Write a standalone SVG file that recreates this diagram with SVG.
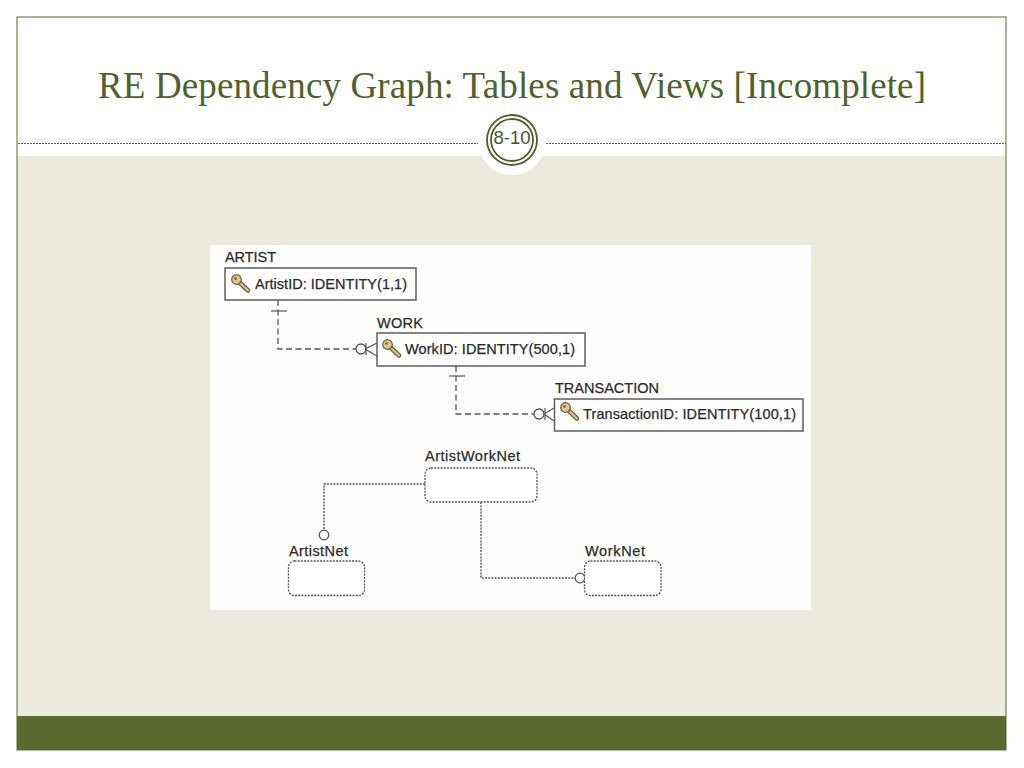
<svg xmlns="http://www.w3.org/2000/svg" width="1024" height="768" viewBox="0 0 1024 768">
<style>
.title{font-family:"Liberation Serif",serif;font-size:37px;fill:#4f6228}
.num{font-family:"Liberation Sans",Arial,sans-serif;font-size:18.500px;fill:#4a5430}
.lbl{font-family:"Liberation Sans",Arial,sans-serif;font-size:14.500px;fill:#2b2b2b;stroke:#2b2b2b;stroke-width:.25}
.tbl{fill:#fff;stroke:#5f5f5f;stroke-width:1.500}
.view{fill:#fff;stroke:#555;stroke-width:1.300;stroke-dasharray:2 1.200}
.dash{fill:none;stroke:#555;stroke-width:1.300;stroke-dasharray:6 3.500}
.dot{fill:none;stroke:#555;stroke-width:1.400;stroke-dasharray:2 1.200}
.solid{fill:none;stroke:#555;stroke-width:1.200}
.open{fill:#fff;stroke:#555;stroke-width:1.300}
</style>
<defs>
<g id="key">
<path d="M6.500 6.500L17 16.500" stroke="#6b5c35" stroke-width="4.600" stroke-linecap="round" fill="none"/>
<path d="M6.500 6.500L17 16.500" stroke="#d8c48f" stroke-width="2.400" stroke-linecap="round" fill="none"/>
<circle cx="5.500" cy="5.500" r="4.800" fill="#dcc88f" stroke="#6b5c35" stroke-width="1.200"/>
<circle cx="4.500" cy="4.500" r="1.300" fill="#6b5c35"/>
</g>
</defs>
<rect width="1024" height="768" fill="#fff"/>
<rect x="17" y="156" width="989" height="560" fill="#ece9df"/>
<rect x="17" y="716" width="989" height="34" fill="#5b6b2e"/>
<rect x="17" y="17" width="989" height="733" fill="none" stroke="#5b6b2e" stroke-width="1"/>
<line x1="18" y1="143.500" x2="1006" y2="143.500" stroke="#5b6b2e" stroke-width="1" stroke-dasharray="2 1"/>
<circle cx="512" cy="141" r="34" fill="#fff"/>
<circle cx="512" cy="140" r="25" fill="#fff" stroke="#4f5f26" stroke-width="1.800"/>
<circle cx="512" cy="140" r="21" fill="none" stroke="#4f5f26" stroke-width="1.800"/>
<text class="title" x="98" y="98" textLength="828">RE Dependency Graph: Tables and Views [Incomplete]</text>
<text class="num" x="512" y="144" text-anchor="middle">8-10</text>
<rect x="210" y="245" width="601" height="365" fill="#fefefd"/>
<g id="connectors">
<path class="dash" d="M278 300V349H356"/>
<path class="solid" d="M271 311H287"/>
<circle class="open" cx="361" cy="349" r="5"/>
<path class="solid" d="M366 343V355M365 349L377 343M365 349L377 356"/>
<path class="dash" d="M456 366V414H534"/>
<path class="solid" d="M449 376H465"/>
<circle class="open" cx="539" cy="414" r="5"/>
<path class="solid" d="M545 408V420M544 414L554 408M544 414L554 421"/>
<path class="dot" d="M425 484H324V530"/>
<circle class="open" cx="324" cy="535" r="4.800"/>
<path class="dot" d="M481 502V578H575"/>
<circle class="open" cx="580" cy="578" r="4.800"/>
</g>
<g id="artist">
<text class="lbl" x="225" y="262" textLength="51">ARTIST</text>
<rect class="tbl" x="225" y="268" width="191" height="32"/>
<use href="#key" x="231" y="274"/>
<text class="lbl" x="255" y="289" textLength="152">ArtistID: IDENTITY(1,1)</text>
</g>
<g id="work">
<text class="lbl" x="377" y="328" textLength="46">WORK</text>
<rect class="tbl" x="377" y="333" width="208" height="33"/>
<use href="#key" x="382" y="339"/>
<text class="lbl" x="405" y="354" textLength="170">WorkID: IDENTITY(500,1)</text>
</g>
<g id="transaction">
<text class="lbl" x="555" y="393" textLength="104">TRANSACTION</text>
<rect class="tbl" x="554.500" y="399" width="248.500" height="32"/>
<use href="#key" x="560" y="402"/>
<text class="lbl" x="583" y="419" textLength="213">TransactionID: IDENTITY(100,1)</text>
</g>
<g id="artistworknet">
<text class="lbl" x="425" y="461" textLength="95">ArtistWorkNet</text>
<rect class="view" x="425" y="468" width="112" height="34" rx="6"/>
</g>
<g id="artistnet">
<text class="lbl" x="289" y="556" textLength="59">ArtistNet</text>
<rect class="view" x="288.500" y="561" width="76" height="34.500" rx="6"/>
</g>
<g id="worknet">
<text class="lbl" x="585" y="556" textLength="60">WorkNet</text>
<rect class="view" x="584.500" y="561" width="76.500" height="34.500" rx="6"/>
</g>
</svg>
